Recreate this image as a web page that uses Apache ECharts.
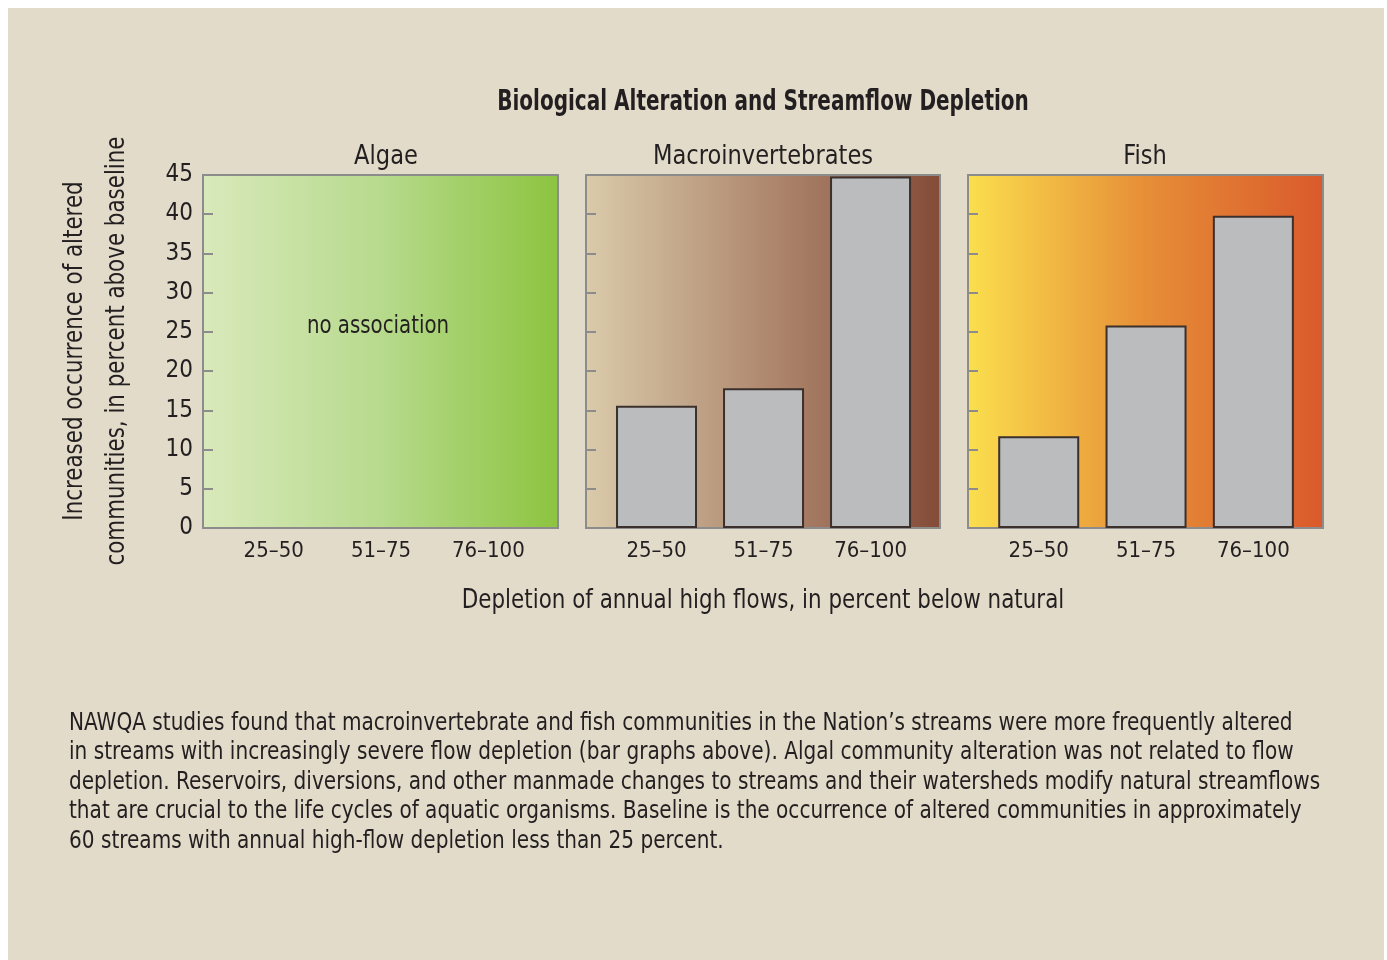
<!DOCTYPE html>
<html>
<head>
<meta charset="utf-8">
<script src="https://cdn.jsdelivr.net/npm/echarts@6/dist/echarts.min.js"></script>
<style>
  html, body { margin: 0; padding: 0; background: #fff; }
  #chart { width: 1387px; height: 960px; }
</style>
</head>
<body>
<div id="chart"></div>
<script>
  // data
  var categories = ['25–50', '51–75', '76–100'];
  var panels = ['Algae', 'Macroinvertebrates', 'Fish'];
  var algae = [];                      // no association
  var macroinvertebrates = [15.6, 17.8, 44.8];
  var fish = [11.7, 25.8, 39.8];

  var FONT = "'DejaVu Sans Condensed', 'Liberation Sans Narrow', 'Roboto', sans-serif";
  var INK = '#231f20';

  var gridLeft = [203, 586, 968];
  var gridWidth = [355, 354, 355];
  var titleX = [386, 763, 1145];
  var gradients = [
    ['#d9e9bb', '#b7da8d', '#8cc43f'],
    ['#dacbab', '#b08a70', '#834b38'],
    ['#fbdf4e', '#e68e37', '#da592c']
  ];

  function grad(c) {
    return new echarts.graphic.LinearGradient(0, 0, 1, 0, [
      {offset: 0, color: c[0]},
      {offset: 0.5, color: c[1]},
      {offset: 1, color: c[2]}
    ]);
  }

  // condensed look: squeeze the text horizontally
  function label(text, x, y, size, sx, opts) {
    opts = opts || {};
    return {
      type: 'text', x: x, y: y, scaleX: sx, rotation: opts.rotation || 0,
      style: {
        text: text,
        font: (opts.bold ? 'bold ' : '') + size + 'px ' + FONT,
        fill: INK,
        lineHeight: opts.lineHeight,
        textAlign: opts.align || 'center',
        textVerticalAlign: opts.valign || 'middle'
      }
    };
  }

  var myChart = echarts.init(document.getElementById('chart'));

  var grid = [], xAxis = [], yAxis = [], series = [];
  var graphic = [{
    type: 'rect', z: -10, silent: true,
    shape: {x: 8, y: 8, width: 1376, height: 952},
    style: {fill: '#e2dbca'}
  }];
  var seriesData = [algae, macroinvertebrates, fish];

  for (var i = 0; i < 3; i++) {
    grid.push({
      left: gridLeft[i], top: 175, width: gridWidth[i], height: 353,
      show: true,
      backgroundColor: grad(gradients[i]),
      borderColor: '#8c8c8c',
      borderWidth: 2
    });
    xAxis.push({
      type: 'value',
      gridIndex: i,
      min: -0.659,
      max: 2.649,
      axisLine: {show: false, onZero: false},
      axisTick: {show: false},
      splitLine: {show: false},
      axisLabel: {
        customValues: [0, 1, 2],
        formatter: function (v) { return categories[Math.round(v)]; },
        fontFamily: FONT, fontSize: 22, color: INK, margin: 12
      }
    });
    yAxis.push({
      type: 'value',
      gridIndex: i,
      position: 'left',
      min: 0, max: 45, interval: 5,
      axisLine: {show: false, onZero: false},
      splitLine: {show: false},
      axisTick: {show: true, inside: true, length: 10, lineStyle: {color: '#8c8c8c', width: 2}},
      axisLabel: {show: i === 0, fontFamily: FONT, fontSize: 24, color: INK, margin: 10, padding: [4, 0, 0, 0]}
    });
    series.push({
      type: 'bar',
      xAxisIndex: i, yAxisIndex: i,
      barWidth: 81,
      z: 1,
      itemStyle: {color: '#bbbcbe', borderColor: '#3b302c', borderWidth: 2},
      data: seriesData[i].map(function (v, k) { return [k, v]; })
    });
    graphic.push(label(panels[i], titleX[i], 157, 27, 0.93));
  }

  graphic.push(label('Biological Alteration and Streamflow Depletion', 763, 103, 28, 0.795, {bold: true}));
  graphic.push(label('no association', 378, 326, 25, 0.88));
  graphic.push(label('Increased occurrence of altered\ncommunities, in percent above baseline',
    96, 351, 26, 0.915, {rotation: Math.PI / 2, lineHeight: 42}));
  graphic.push(label('Depletion of annual high flows, in percent below natural', 763, 601, 27, 0.883));

  var caption = [
    'NAWQA studies found that macroinvertebrate and fish communities in the Nation’s streams were more frequently altered',
    'in streams with increasingly severe flow depletion (bar graphs above). Algal community alteration was not related to flow',
    'depletion. Reservoirs, diversions, and other manmade changes to streams and their watersheds modify natural streamflows',
    'that are crucial to the life cycles of aquatic organisms. Baseline is the occurrence of altered communities in approximately',
    '60 streams with annual high-flow depletion less than 25 percent.'
  ].join('\n');
  graphic.push(label(caption, 69, 709, 24, 0.93, {align: 'left', valign: 'top', lineHeight: 29.4}));

  var option = {
    animation: false,
    backgroundColor: '#ffffff',
    grid: grid,
    xAxis: xAxis,
    yAxis: yAxis,
    series: series,
    graphic: graphic
  };

  myChart.setOption(option, true);
</script>
</body>
</html>
